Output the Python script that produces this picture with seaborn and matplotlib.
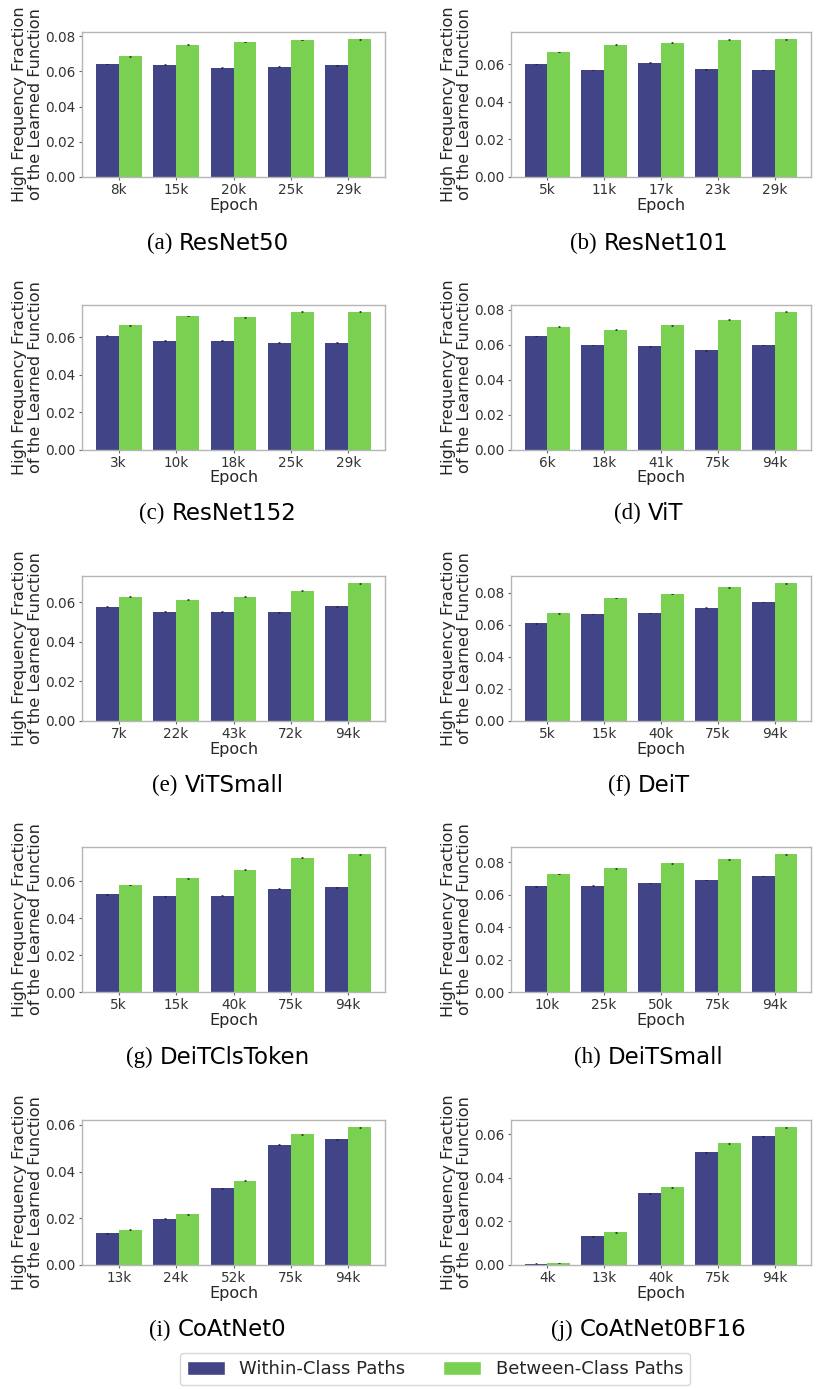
import matplotlib
matplotlib.use("Agg")
import matplotlib.pyplot as plt
from matplotlib.patches import Patch
import pandas as pd
import seaborn as sns

# ---------------- data ----------------
series_names = ["Within-Class Paths", "Between-Class Paths"]
series_colors = ["#414487", "#7AD151"]

resnet50_epochs = ["8k", "15k", "20k", "25k", "29k"]
resnet50_within = [0.0643, 0.0639, 0.0622, 0.0628, 0.0635]
resnet50_between = [0.0685, 0.0752, 0.0768, 0.0779, 0.0783]

resnet101_epochs = ["5k", "11k", "17k", "23k", "29k"]
resnet101_within = [0.0602, 0.0570, 0.0608, 0.0573, 0.0570]
resnet101_between = [0.0665, 0.0705, 0.0715, 0.0730, 0.0733]

resnet152_epochs = ["3k", "10k", "18k", "25k", "29k"]
resnet152_within = [0.0608, 0.0580, 0.0580, 0.0570, 0.0570]
resnet152_between = [0.0663, 0.0713, 0.0706, 0.0735, 0.0735]

vit_epochs = ["6k", "18k", "41k", "75k", "94k"]
vit_within = [0.0649, 0.0597, 0.0591, 0.0568, 0.0597]
vit_between = [0.0703, 0.0686, 0.0711, 0.0742, 0.0788]

vitsmall_epochs = ["7k", "22k", "43k", "72k", "94k"]
vitsmall_within = [0.0576, 0.0552, 0.0552, 0.0549, 0.0579]
vitsmall_between = [0.0627, 0.0613, 0.0627, 0.0658, 0.0695]

deit_epochs = ["5k", "15k", "40k", "75k", "94k"]
deit_within = [0.0610, 0.0669, 0.0675, 0.0709, 0.0743]
deit_between = [0.0673, 0.0768, 0.0794, 0.0836, 0.0861]

deitcls_epochs = ["5k", "15k", "40k", "75k", "94k"]
deitcls_within = [0.0530, 0.0519, 0.0523, 0.0560, 0.0568]
deitcls_between = [0.0581, 0.0616, 0.0663, 0.0729, 0.0747]

deitsmall_epochs = ["10k", "25k", "50k", "75k", "94k"]
deitsmall_within = [0.0652, 0.0656, 0.0673, 0.0690, 0.0715]
deitsmall_between = [0.0727, 0.0762, 0.0794, 0.0818, 0.0850]

coatnet0_epochs = ["13k", "24k", "52k", "75k", "94k"]
coatnet0_within = [0.0136, 0.0198, 0.0328, 0.0514, 0.0538]
coatnet0_between = [0.0150, 0.0218, 0.0361, 0.0560, 0.0589]

coatnetbf16_epochs = ["4k", "13k", "40k", "75k", "94k"]
coatnetbf16_within = [0.0006, 0.0132, 0.0329, 0.0517, 0.0591]
coatnetbf16_between = [0.0009, 0.0150, 0.0357, 0.0557, 0.0631]

bar_error = 0.0002

panel_letters = ["(a)", "(b)", "(c)", "(d)", "(e)", "(f)", "(g)", "(h)", "(i)", "(j)"]
panel_names = ["ResNet50", "ResNet101", "ResNet152", "ViT", "ViTSmall",
               "DeiT", "DeiTClsToken", "DeiTSmall", "CoAtNet0", "CoAtNet0BF16"]
panel_epochs = [resnet50_epochs, resnet101_epochs, resnet152_epochs, vit_epochs,
                vitsmall_epochs, deit_epochs, deitcls_epochs, deitsmall_epochs,
                coatnet0_epochs, coatnetbf16_epochs]
panel_within = [resnet50_within, resnet101_within, resnet152_within, vit_within,
                vitsmall_within, deit_within, deitcls_within, deitsmall_within,
                coatnet0_within, coatnetbf16_within]
panel_between = [resnet50_between, resnet101_between, resnet152_between, vit_between,
                 vitsmall_between, deit_between, deitcls_between, deitsmall_between,
                 coatnet0_between, coatnetbf16_between]

# ---------------- style ----------------
sns.set_theme(style="white")
plt.rcParams["font.family"] = ["DejaVu Sans"]
plt.rcParams["axes.edgecolor"] = "#b5b5b5"
plt.rcParams["axes.linewidth"] = 1.0

W, H = 817, 1389
fig = plt.figure(figsize=(W / 100, H / 100), dpi=100)

row_tops = [32, 304.5, 576, 847, 1120]
axes_h = 145
col_left = [82, 511]
col_w = [303, 300]
cap_y = [243, 513, 785, 1057, 1330]
cap_x = [218, 649]

renderer = fig.canvas.get_renderer()

for i in range(10):
    r, c = divmod(i, 2)
    left = col_left[c] / W
    bottom = 1 - (row_tops[r] + axes_h) / H
    ax = fig.add_axes([left, bottom, col_w[c] / W, axes_h / H])
    epochs = panel_epochs[i]
    df = pd.DataFrame({
        "Epoch": epochs + epochs,
        "value": panel_within[i] + panel_between[i],
        "Path": [series_names[0]] * len(epochs) + [series_names[1]] * len(epochs),
    })
    sns.barplot(data=df, x="Epoch", y="value", hue="Path", hue_order=series_names,
                palette=series_colors, saturation=1, errorbar=None, ax=ax,
                legend=False, linewidth=0)
    for p in ax.patches:
        if p.get_width() > 0:
            ax.errorbar(p.get_x() + p.get_width() / 2, p.get_height(), yerr=bar_error,
                        color="#222222", capsize=1.0, elinewidth=0.6, capthick=0.5, fmt="none")
    ax.set_xlim(-0.64, 4.64)
    ax.relim()
    ax.autoscale(axis="y")
    ax.set_ylim(0, None)
    ax.set_xlabel("Epoch", fontsize=11.5, color="#262626", labelpad=0.5)
    ax.set_ylabel("High Frequency Fraction\nof the Learned Function", fontsize=11.6,
                  color="#262626", labelpad=1.5, linespacing=1.1)
    ax.tick_params(axis="both", labelsize=9.8, labelcolor="#333333", color="#666666",
                   length=2.5, width=0.8, left=True, bottom=True, pad=2)
    for s in ax.spines.values():
        s.set_color("#b5b5b5")

    # caption with serif letter + sans name
    t1 = fig.text(0, 0, panel_letters[i], fontsize=16.5, family="Liberation Serif",
                  color="black", va="center", ha="left")
    t2 = fig.text(0, 0, panel_names[i], fontsize=16.5, family="DejaVu Sans",
                  color="black", va="center", ha="left")
    w1 = t1.get_window_extent(renderer).width
    w2 = t2.get_window_extent(renderer).width
    gap = 7
    total = w1 + gap + w2
    x0 = cap_x[c] - total / 2
    yy = 1 - cap_y[r] / H
    t1.set_position((x0 / W, yy))
    t2.set_position(((x0 + w1 + gap) / W, yy))

handles = [Patch(facecolor=series_colors[k], label=series_names[k]) for k in range(2)]
leg = fig.legend(handles=handles, loc="center", bbox_to_anchor=(435 / W, 1 - 1369 / H),
                 ncol=2, fontsize=13, handlelength=2.1, handleheight=0.8,
                 columnspacing=2.1, frameon=True, borderpad=0.4)
leg.get_frame().set_edgecolor("#cccccc")
for t in leg.get_texts():
    t.set_color("#262626")

fig.savefig("out.png", dpi=100)
